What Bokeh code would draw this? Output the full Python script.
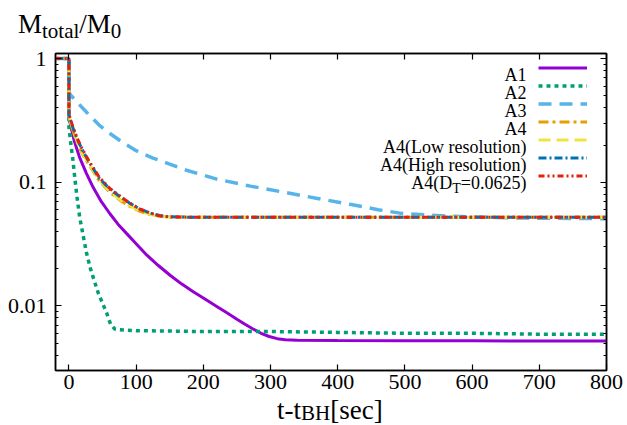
from bokeh.plotting import figure
from bokeh.layouts import column
from bokeh.models import (Range1d, FixedTicker, LinearAxis, LogAxis, Label, Legend,
                          LegendItem, CustomJSTickFormatter, Div)
from bokeh.core.properties import value
from bokeh.embed import file_html
from bokeh.resources import INLINE

FONT = "Liberation Serif"

# ---------------- data ----------------
t_a1 = [-20, 0, 0, 2, 8, 16, 26, 36, 48, 61, 73, 86, 100, 116, 133, 151, 168, 185, 203, 220, 235,
        250, 262, 274, 286, 298, 310, 322, 340, 400, 500, 600, 700, 800]
m_a1 = [1, 1, 0.33, 0.295, 0.215, 0.158, 0.118, 0.091, 0.070, 0.0556, 0.0458, 0.0384, 0.0318, 0.0257,
        0.0212, 0.0176, 0.0150, 0.0130, 0.0113, 0.0099, 0.0088, 0.0078, 0.0071, 0.0065, 0.0060,
        0.00565, 0.00543, 0.00532, 0.00526, 0.00524, 0.00522, 0.00521, 0.0052, 0.00519]

t_a2 = [-20, 0, 0, 3, 6, 9, 12, 16, 20, 26, 32, 38, 44, 50, 56, 62, 68, 75, 100, 200, 300, 400, 500, 600, 700, 800]
m_a2 = [1, 1, 0.28, 0.2, 0.15, 0.105, 0.076, 0.052, 0.040, 0.027, 0.020, 0.0158, 0.0125, 0.0105,
        0.0088, 0.0071, 0.0065, 0.0064, 0.0063, 0.0062, 0.0062, 0.0061, 0.0060, 0.0060, 0.0059, 0.0059]

t_a3 = [-20, 0, 0, 2, 10, 20, 30, 45, 60, 80, 100, 125, 150, 175, 220, 270, 320, 370, 420, 460,
        495, 530, 565, 600, 650, 700, 800]
m_a3 = [1, 1, 0.54, 0.51, 0.46, 0.40, 0.35, 0.29, 0.25, 0.21, 0.18, 0.157, 0.14, 0.125, 0.106,
        0.093, 0.083, 0.074, 0.066, 0.060, 0.056, 0.0545, 0.0532, 0.0524, 0.0516, 0.0512, 0.0507]

t_a4 = [-20, 0, 0, 5, 12, 20, 30, 45, 60, 75, 90, 105, 120, 135, 150, 175, 200, 300, 400, 500, 600, 700, 800]
m_a4 = [1, 1, 0.34, 0.27, 0.21, 0.17, 0.138, 0.103, 0.084, 0.072, 0.064, 0.0585, 0.0548, 0.053,
        0.0523, 0.0521, 0.0521, 0.0521, 0.052, 0.052, 0.052, 0.052, 0.052]
m_low = [1, 1, 0.34, 0.275, 0.215, 0.173, 0.14, 0.105, 0.085, 0.073, 0.065, 0.059, 0.055, 0.053,
         0.0523, 0.0521, 0.0521, 0.0521, 0.052, 0.052, 0.052, 0.052, 0.052]
m_high = [1, 1, 0.35, 0.285, 0.225, 0.182, 0.146, 0.108, 0.089, 0.077, 0.068, 0.061, 0.0565, 0.0538,
          0.0525, 0.0522, 0.0522, 0.0521, 0.0521, 0.052, 0.052, 0.052, 0.052]
m_dt = [1, 1, 0.355, 0.29, 0.228, 0.185, 0.148, 0.11, 0.09, 0.078, 0.068, 0.061, 0.0565, 0.0535,
        0.0524, 0.0522, 0.0522, 0.0522, 0.0521, 0.0521, 0.052, 0.052, 0.052]

series_names = ["A1", "A2", "A3", "A4", "A4(Low resolution)", "A4(High resolution)", "A4(D_T=0.0625)"]
colors = ["#9400D3", "#009E73", "#56B4E9", "#E69F00", "#F0E442", "#0072B2", "#E51E10"]
dashes = ["solid", "4 4", "13 8", "10 4 3 4", "12 6", "8 3 2 3", "6 3 2 3 2 3"]
widths = [3, 3.5, 3.5, 3, 3, 3, 3]

x_ticks = [0, 100, 200, 300, 400, 500, 600, 700, 800]
x_tick_labels = ["0", "100", "200", "300", "400", "500", "600", "700", "800"]
y_ticks = [0.01, 0.1, 1]
y_tick_labels = ["0.01", "0.1", "1"]
y_minor = [m * 10.0 ** e for e in (-3, -2, -1, 0) for m in range(2, 10) if 0.003 <= m * 10.0 ** e <= 1.1]

# ---------------- layout constants ----------------
W, H = 627, 425
TOP_H = 40          # title strip
BOT_H = 20          # x-title strip
FIG_H = H - TOP_H - BOT_H
FL, FR = 55, 606
FT, FB = 53, 370    # frame edges in page px
mb_top = FT - TOP_H
mb_bot = TOP_H + FIG_H - FB

p = figure(width=W, height=FIG_H, x_range=Range1d(-20, 800), y_range=Range1d(0.003, 1.1),
           y_axis_type="log", output_backend="svg", toolbar_location=None,
           min_border_left=FL, min_border_right=W - FR, min_border_top=mb_top,
           min_border_bottom=mb_bot, margin=0)
p.xgrid.visible = False
p.ygrid.visible = False
p.outline_line_color = "black"
p.outline_line_width = 1.5
p.background_fill_color = "white"
p.border_fill_color = "white"

fmt_code = "const i = tv.indexOf(tick); return i >= 0 ? tl[i] : '';"
x_fmt = CustomJSTickFormatter(args=dict(tv=x_ticks, tl=x_tick_labels), code=fmt_code)
y_fmt = CustomJSTickFormatter(args=dict(tv=y_ticks, tl=y_tick_labels), code=fmt_code)
blank_fmt = CustomJSTickFormatter(code="return '';")


def style_axis(ax, minor=True):
    ax.axis_line_color = "black"
    ax.axis_line_width = 1.5
    ax.major_tick_in = 6
    ax.major_tick_out = 0
    ax.major_tick_line_color = "black"
    ax.major_tick_line_width = 1.2
    if minor:
        ax.minor_tick_in = 3
        ax.minor_tick_out = 0
        ax.minor_tick_line_color = "black"
        ax.minor_tick_line_width = 1
    else:
        ax.minor_tick_line_color = None
    ax.major_label_text_font = FONT
    ax.major_label_text_font_size = "22px"
    ax.major_label_text_color = "black"


xb = p.xaxis[0]
xb.ticker = FixedTicker(ticks=x_ticks)
xb.formatter = x_fmt
style_axis(xb, minor=False)
xb.major_label_standoff = 4

yl = p.yaxis[0]
yl.ticker = FixedTicker(ticks=y_ticks, minor_ticks=y_minor)
yl.formatter = y_fmt
style_axis(yl)
yl.major_label_standoff = 9

xt = LinearAxis(ticker=FixedTicker(ticks=x_ticks), formatter=blank_fmt)
style_axis(xt, minor=False)
xt.major_label_standoff = 0
p.add_layout(xt, "above")

yr = LogAxis(ticker=FixedTicker(ticks=y_ticks, minor_ticks=y_minor), formatter=blank_fmt)
style_axis(yr)
yr.major_label_standoff = 0
p.add_layout(yr, "right")

# ---------------- curves ----------------
ts = [t_a1, t_a2, t_a3, t_a4, t_a4, t_a4, t_a4]
ms = [m_a1, m_a2, m_a3, m_a4, m_low, m_high, m_dt]
renderers = []
for t, m, c, d, w in zip(ts, ms, colors, dashes, widths):
    r = p.line(t, m, line_color=c, line_dash=d, line_width=w)
    renderers.append(r)

# ---------------- key (samples via Legend, right-aligned texts via Labels) ----------------
row0 = 67.3      # page y of first sample line
pitch = 18
gh = 15
leg_top = row0 - gh / 2
leg_h = len(renderers) * gh + (len(renderers) - 1) * (pitch - gh)
legend = Legend(items=[LegendItem(label=value(""), renderers=[r]) for r in renderers],
                location=(538 - FL, FB - (leg_top + leg_h)),
                glyph_width=49, glyph_height=gh, label_width=0, label_height=gh,
                label_standoff=0, spacing=pitch - gh, padding=0, margin=0,
                border_line_alpha=0, background_fill_alpha=0, label_text_font_size="8px")
p.add_layout(legend)


def lab(txt, X, Y, size, align="left"):
    p.add_layout(Label(x=X - FL, y=FB - Y, x_units="screen", y_units="screen", text=txt,
                       text_font=FONT, text_font_size=f"{size}px", text_align=align,
                       text_baseline="alphabetic", text_color="black"))


KX = 526
for i, name in enumerate(series_names[:-1]):
    lab(name, KX, row0 + pitch * i + 7.5, 18, "right")
yb = row0 + pitch * 6 + 7.5
lab("=0.0625)", KX, yb, 18, "right")
lab("T", KX - 65.7, yb + 5, 14, "right")
lab("A4(D", KX - 65.7 - 8.6, yb, 18, "right")

# ---------------- axis titles as HTML strips ----------------
base = f"font-family:'{FONT}', serif; color:black; white-space:nowrap;"
sub_t = "font-size:21px; vertical-align:-5px;"
sub_x = "font-size:21px; vertical-align:-1px; line-height:10px;"
title_div = Div(
    text=(f'<div style="{base} font-size:27px; line-height:27px; padding:11px 0 0 18px;">'
          f'M<span style="{sub_t}">total</span>/M<span style="{sub_t}">0</span></div>'),
    width=W, height=TOP_H, margin=0)
xlab_div = Div(
    text=(f'<div style="{base} font-size:27px; line-height:10px; padding:0 0 0 277px;">'
          f't-t<span style="{sub_x}">BH</span>[sec]</div>'),
    width=W, height=BOT_H, margin=0)

page = column(title_div, p, xlab_div, spacing=0, margin=0)

open("out.html", "w").write(file_html(page, INLINE))
